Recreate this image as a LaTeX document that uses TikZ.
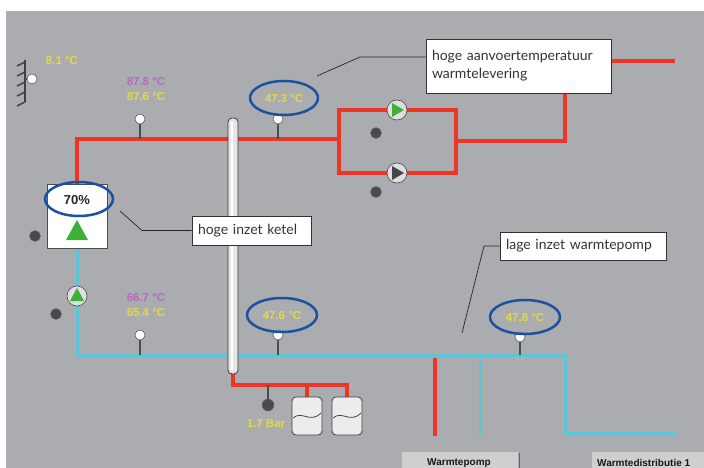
\documentclass[tikz,border=0pt]{standalone}
\usepackage{fontspec}
\setmainfont{Lato}
\newfontfamily\lblfont{Liberation Sans}
\usetikzlibrary{shapes.geometric}
\definecolor{bg}{HTML}{ABACB0}
\definecolor{pred}{HTML}{EE3424}
\definecolor{pcyan}{HTML}{5CC6D8}
\definecolor{eblue}{HTML}{1A52A0}
\definecolor{tyel}{HTML}{E0DA48}
\definecolor{tmag}{HTML}{B867C4}
\definecolor{pgreen}{HTML}{3DB03A}
\definecolor{dotgray}{HTML}{4A4A4C}
\tikzset{
  redpipe/.style={pred,line width=3.5pt},
  cyanpipe/.style={pcyan,line width=3pt},
  sensor/.style={circle,fill=white,draw=gray!70!black,line width=0.6pt,minimum size=10pt,inner sep=0pt},
  stem/.style={black!70,line width=1.2pt},
  darkdot/.style={circle,fill=dotgray,draw=black!60,minimum size=11pt,inner sep=0pt},
  pumpc/.style={circle,fill=gray!25,draw=gray!60!black,line width=0.6pt,minimum size=20pt,inner sep=0pt},
  tyl/.style={text=tyel,font=\lblfont\bfseries\fontsize{11.5}{12}\selectfont,inner sep=0pt},
  tmg/.style={text=tmag,font=\lblfont\bfseries\fontsize{11.5}{12}\selectfont,inner sep=0pt},
  hl/.style={eblue,line width=2.5pt},
  callout/.style={draw=black!80,fill=white,line width=0.8pt,font=\fontsize{14}{18}\selectfont,inner sep=0pt,align=left,text=black!80},
  leader/.style={black!85,line width=0.7pt},
  tank/.style={fill=gray!15,draw=gray!50!black,line width=0.8pt,rounded corners=4pt},
  button/.style={fill=gray!38,draw=none},
  btntext/.style={font=\lblfont\bfseries\fontsize{10}{11}\selectfont,text=black!90,inner sep=0pt}
}
\begin{document}
\begin{tikzpicture}[x=1pt,y=-1pt]
\useasboundingbox (0,0) rectangle (704,468);
\fill[white] (0,0) rectangle (704,468);
\fill[bg] (6,11) rectangle (704,468);

% ---- red supply pipes
\draw[redpipe,line join=miter] (77,184) -- (77,139) -- (339,139);
\draw[redpipe] (339,110) rectangle (456,173);
\draw[redpipe] (456,141) -- (565,141) -- (565,61) -- (675,61);

% ---- cyan return pipes
\draw[cyanpipe] (77,248) -- (77,355) -- (565,355) -- (565,433) -- (675,433);
\draw[cyanpipe] (480,355) -- (480,436);
\draw[pred,line width=4pt] (435,358) -- (435,436);

% ---- bottom expansion pipes
\draw[redpipe] (233,370) -- (233,385) -- (347,385) -- (347,398);
\draw[redpipe] (307,385) -- (307,398);
\draw[stem] (268,385) -- (268,400);
\node[darkdot,minimum size=12pt] (pdot) at (268,405) {};
\node[tyl] (bar) at (266,424) {1.7 Bar};
\draw[tank] (292,397) rectangle (322,435);
\draw[gray!50!black,line width=0.8pt] (293,418) .. controls (302,410) and (310,424) .. (321,413);
\draw[tank] (332,397) rectangle (362,435);
\draw[gray!50!black,line width=0.8pt] (333,418) .. controls (342,410) and (350,424) .. (361,413);

% ---- header column
\draw[fill=gray!20,draw=gray!45!black,line width=0.8pt,rounded corners=4pt] (228,118) rectangle (238,374);
\draw[white,line width=2pt] (231.5,122) -- (231.5,370);

% ---- outdoor sensor
\draw[black!75,line width=1.5pt] (25,60) -- (25,102);
\foreach \yy in {62,72,82,92,102} \draw[black!75,line width=1.5pt] (25,\yy) -- (17,\yy+4);
\draw[stem] (25,79) -- (30,79);
\node[sensor] (so) at (32,79) {};
\node[tyl] (to) at (62,61) {8.1 °C};

% ---- sensors on red line
\draw[stem] (140,119) -- (140,139);
\node[sensor] (s1) at (140,119) {};
\node[tmg] (t1a) at (146,82) {87.8 °C};
\node[tyl] (t1b) at (146,97) {87.6 °C};
\draw[stem] (278,119) -- (278,139);
\node[sensor] (s2) at (278,119) {};
\node[tyl] (t2) at (284,99) {47.3 °C};
\draw[hl] (284,98) ellipse (34 and 17);

% ---- pumps on red loop
\node[pumpc] (p1) at (397,110) {};
\fill[pgreen] (392,103) -- (404,110) -- (392,117) -- cycle;
\node[pumpc] (p2) at (397,173) {};
\fill[gray!55!black] (392,166) -- (404,173) -- (392,180) -- cycle;
\node[darkdot] (d1) at (376,133) {};
\node[darkdot] (d2) at (376,192) {};

% ---- boiler
\node[draw=gray!60!black,fill=white,line width=0.8pt,minimum width=60pt,minimum height=64pt,inner sep=0pt] (boiler) at (77,216) {};
\node[font=\lblfont\bfseries\fontsize{13}{14}\selectfont,inner sep=0pt,text=black!85] (pct) at (77,200) {70\%};
\fill[pgreen] (77,220) -- (88,240) -- (66,240) -- cycle;
\draw[hl] (79,199) ellipse (34 and 17);
\node[darkdot] (d3) at (35,236) {};

% ---- return pump
\node[pumpc] (p3) at (77,296) {};
\fill[pgreen] (77,288) -- (84,301) -- (70,301) -- cycle;
\node[darkdot] (d4) at (56,314) {};

% ---- sensors on cyan line
\draw[stem] (140,335) -- (140,355);
\node[sensor] (s3) at (140,335) {};
\node[tmg] (t3a) at (146,298) {66.7 °C};
\node[tyl] (t3b) at (146,313) {65.4 °C};
\draw[stem] (278,335) -- (278,355);
\node[sensor] (s4) at (278,335) {};
\node[tyl] (t4) at (282,316) {47.6 °C};
\draw[hl] (282,315) ellipse (35 and 17);
\draw[stem] (520,337) -- (520,355);
\node[sensor] (s5) at (520,337) {};
\node[tyl] (t5) at (525,318) {47.8 °C};
\draw[hl] (525,317) ellipse (35 and 17);

% ---- callouts
\node[callout,minimum width=185pt,minimum height=54pt,text width=173pt] (c1) at (518.5,66) {hoge aanvoertemperatuur\\warmtelevering};
\coordinate (c1e) at (317,76);
\draw[leader] (c1.west |- 0,57) -- (360,57) -- (c1e);
\node[callout,minimum width=119pt,minimum height=29pt,text width=107pt] (c2) at (251.5,230.5) {hoge inzet ketel};
\coordinate (c2e) at (120,211);
\draw[leader] (c2.west) -- (142,230.5) -- (c2e);
\node[callout,minimum width=166pt,minimum height=28pt,text width=154pt] (c3) at (583,246) {lage inzet warmtepomp};
\coordinate (c3e) at (462,333);
\draw[leader] (c3.west) -- (484,246) -- (c3e);

% ---- bottom buttons
\fill[button] (402,452) rectangle (518,468);
\draw[black!60,line width=1pt] (519,453) -- (519,468);
\node[btntext] (b1) at (459,463) {Warmtepomp};
\fill[button] (592,452) rectangle (704,468);
\node[btntext,anchor=west] (b2) at (597,463) {Warmtedistributie 1};
\end{tikzpicture}
\end{document}
